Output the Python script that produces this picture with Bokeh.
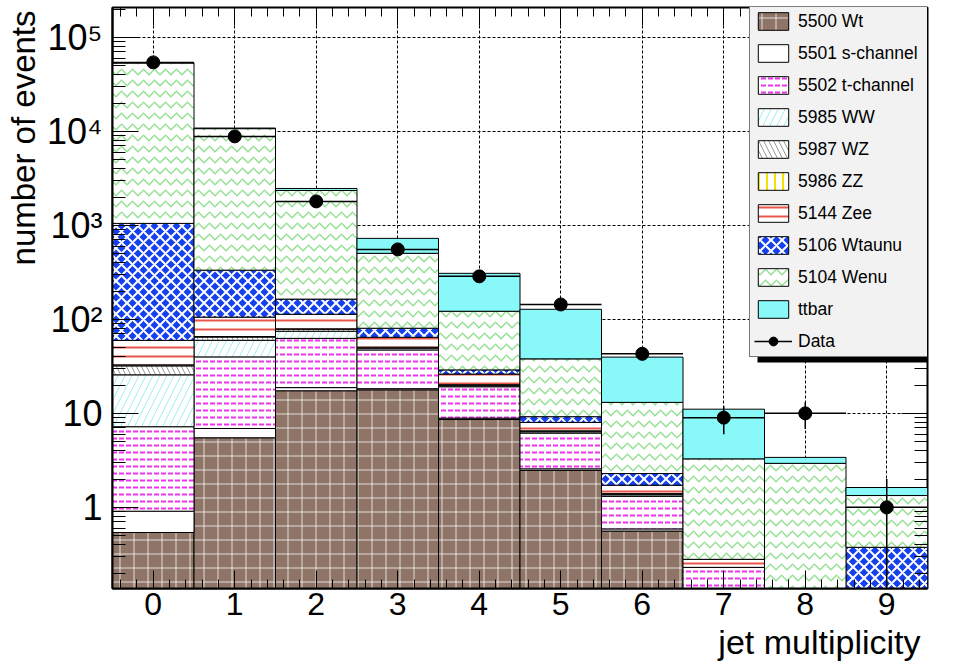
import numpy as np
from bokeh.plotting import figure
from bokeh.models import (ColumnDataSource, FixedTicker, LinearAxis, LogAxis,
                          Legend, LegendItem, Title, Range1d, BoxAnnotation)
from bokeh.embed import file_html
from bokeh.resources import INLINE

# ---------------- data ----------------
jets = [0, 1, 2, 3, 4, 5, 6, 7, 8, 9]
x_tick_labels = ["0", "1", "2", "3", "4", "5", "6", "7", "8", "9"]

wt        = [0.54, 5.5, 17.4, 17.8, 8.6, 2.47, 0.56, 0, 0, 0]
s_channel = [0.37, 1.4, 1.4, 0.5, 0.3, 0.1, 0.03, 0, 0, 0]
t_channel = [6.3, 33, 44, 29, 10.3, 3.6, 0.72, 0.23, 0, 0]
ww        = [18.5, 20, 12, 2, 0.5, 0.2, 0.05, 0, 0, 0]
wz        = [6.3, 5, 4, 1, 0.4, 0.1, 0.03, 0, 0, 0]
zz        = [0.8, 0.8, 0.5, 0.2, 0.1, 0.05, 0.01, 0, 0, 0]
zee       = [27, 40, 34, 14, 6, 1.5, 0.32, 0.05, 0, 0]
wtaunu    = [990, 228, 51, 16, 2.8, 1.2, 0.57, 0, 0, 0.376]
wenu      = [52550, 10366, 2185, 424, 93, 28.8, 10.8, 3.0, 2.94, 0.96]
ttbar     = [20, 150, 120, 223, 187, 90, 26.6, 7.8, 0.46, 0.29]
data      = [54200, 8850, 1800, 555, 287, 144, 43, 9, 10, 1]

series_names = ["5500 Wt", "5501 s-channel", "5502 t-channel", "5985 WW",
                "5987 WZ", "5986 ZZ", "5144 Zee", "5106 Wtaunu",
                "5104 Wenu", "ttbar"]
series_values = [wt, s_channel, t_channel, ww, wz, zz, zee, wtaunu, wenu, ttbar]

y_major = [1, 10, 100, 1000, 10000, 100000]
y_major_labels = ["1", "10", "10²", "10³", "10⁴", "10⁵"]

# ---------------- styles ----------------
styles = [
    dict(fill_color="#8e7567", hatch_pattern="+", hatch_color="white",
         hatch_alpha=0.75, hatch_scale=14, hatch_weight=1),
    dict(fill_color="white"),
    dict(fill_color="white", hatch_pattern='"', hatch_color="#ee33ee",
         hatch_scale=7, hatch_weight=2),
    dict(fill_color="white", hatch_pattern="/", hatch_color="#9eeeee",
         hatch_scale=14, hatch_weight=1),
    dict(fill_color="white", hatch_pattern="\\", hatch_color="#9a9a9a",
         hatch_scale=10, hatch_weight=1),
    dict(fill_color="white", hatch_pattern="|", hatch_color="#f2e200",
         hatch_scale=8, hatch_weight=2),
    dict(fill_color="white", hatch_pattern="-", hatch_color="#e8564a",
         hatch_scale=9, hatch_weight=2),
    dict(fill_color="#1440ee", hatch_pattern="x", hatch_color="white",
         hatch_scale=11, hatch_weight=2),
    dict(fill_color="white", hatch_pattern="v", hatch_color="#7ada7a",
         hatch_scale=11, hatch_weight=1.5, hatch_alpha=0.8),
    dict(fill_color="#88f8f8"),
]

FONT = "Liberation Sans"
W, H = 956, 664
FLOOR = 1e-3

p = figure(width=W, height=H, y_axis_type="log",
           x_range=Range1d(-0.5, 9.5), y_range=Range1d(0.137, 2.08e5),
           output_backend="svg", toolbar_location=None,
           min_border_left=112, min_border_right=29,
           min_border_top=7, min_border_bottom=76)
p.background_fill_color = "white"
p.border_fill_color = "white"
p.outline_line_color = "black"
p.outline_line_width = 2

x = np.array(jets, dtype=float)
cum = np.zeros(len(jets))
items = []
for name, vals, st in zip(series_names, series_values, styles):
    bottom = np.maximum(cum, FLOOR)
    cum = cum + np.array(vals, dtype=float)
    top = np.maximum(cum, FLOOR)
    src = ColumnDataSource(dict(left=x - 0.5, right=x + 0.5, bottom=bottom, top=top))
    r = p.quad(left="left", right="right", bottom="bottom", top="top", source=src,
               line_color="black", line_width=1, **st)
    items.append(LegendItem(label=name, renderers=[r]))

# data points with sqrt(N) errors
d = np.array(data, dtype=float)
err = np.sqrt(d)
p.segment(x0=x, y0=np.maximum(d - err, FLOOR), x1=x, y1=d + err,
          line_color="black", line_width=1.5)
hbar = p.segment(x0=x - 0.5, y0=d, x1=x + 0.5, y1=d, line_color="black", line_width=1.5)
pts = p.scatter(x=x, y=d, size=13, fill_color="black", line_color="black", marker="circle")
items.append(LegendItem(label="Data", renderers=[hbar, pts]))

# ---------------- axes ----------------
x_minor = [i + f for i in range(-1, 10) for f in (0.2, 0.4, 0.6, 0.8) if -0.5 < i + f < 9.5]
y_minor = [m * 10.0 ** e for e in range(-1, 6) for m in range(2, 10) if 0.137 < m * 10.0 ** e < 2.08e5]

xa = p.xaxis[0]
xa.ticker = FixedTicker(ticks=jets, minor_ticks=x_minor)
xa.major_label_overrides = {j: lab for j, lab in zip(jets, x_tick_labels)}
xa.major_label_text_font = FONT
xa.major_label_text_font_size = "32px"
xa.major_label_text_color = "black"
xa.major_label_standoff = 4
xa.major_tick_in = 18
xa.major_tick_out = 0
xa.minor_tick_in = 9
xa.minor_tick_out = 0
xa.axis_line_color = "black"
xa.axis_line_width = 2
xa.major_tick_line_color = "black"
xa.minor_tick_line_color = "black"

ya = p.yaxis[0]
ya.ticker = FixedTicker(ticks=y_major, minor_ticks=y_minor)
ya.major_label_overrides = {float(v): lab for v, lab in zip(y_major, y_major_labels)}
ya.major_label_text_font = FONT
ya.major_label_text_font_size = "36px"
ya.major_label_text_color = "black"
ya.major_label_standoff = 10
ya.major_tick_in = 26
ya.major_tick_out = 0
ya.minor_tick_in = 13
ya.minor_tick_out = 0
ya.axis_line_color = "black"
ya.axis_line_width = 2
ya.major_tick_line_color = "black"
ya.minor_tick_line_color = "black"

# mirrored ticks on top and right (labels not painted)
top_ax = LinearAxis(ticker=FixedTicker(ticks=jets, minor_ticks=x_minor),
                    major_label_text_font_size="2px", major_label_text_color=None,
                    major_label_standoff=0,
                    major_tick_in=18, major_tick_out=0, minor_tick_in=9, minor_tick_out=0,
                    axis_line_color=None)
p.add_layout(top_ax, "above")
right_ax = LogAxis(ticker=FixedTicker(ticks=y_major, minor_ticks=y_minor),
                   major_label_text_font_size="2px", major_label_text_color=None,
                   major_label_standoff=0,
                   major_tick_in=26, major_tick_out=0, minor_tick_in=13, minor_tick_out=0,
                   axis_line_color=None)
p.add_layout(right_ax, "right")

# grid
for g in (p.xgrid[0], p.ygrid[0]):
    g.grid_line_color = "black"
    g.grid_line_dash = "3 2"
    g.grid_line_width = 1

# axis titles, ROOT style (aligned to the axis end)
p.add_layout(Title(text="jet multiplicity", align="right", text_font=FONT,
                   text_font_size="34px", text_font_style="normal",
                   text_color="black", standoff=6, offset=7), "below")
p.add_layout(Title(text="number of events", align="right", text_font=FONT,
                   text_font_size="33px", text_font_style="normal",
                   text_color="black", standoff=4, offset=3), "left")

# legend shadow (ROOT style, offsets relative to the frame) and legend
p.add_layout(BoxAnnotation(left=645, right=848, top=233, bottom=226,
                           left_units="screen", right_units="screen",
                           top_units="screen", bottom_units="screen",
                           fill_color="black", fill_alpha=1.0, line_color=None))
leg = Legend(items=items, location=(637, 231), orientation="vertical",
             padding=4, margin=0, spacing=10,
             glyph_width=38, glyph_height=22, label_height=22, label_width=155,
             label_standoff=6, label_text_font=FONT, label_text_font_size="17.5px",
             label_text_baseline="middle", label_text_color="black",
             background_fill_color="#f2f2f2", background_fill_alpha=1.0,
             border_line_color="black", border_line_width=1)
p.add_layout(leg)

open("out.html", "w").write(file_html(p, INLINE))
